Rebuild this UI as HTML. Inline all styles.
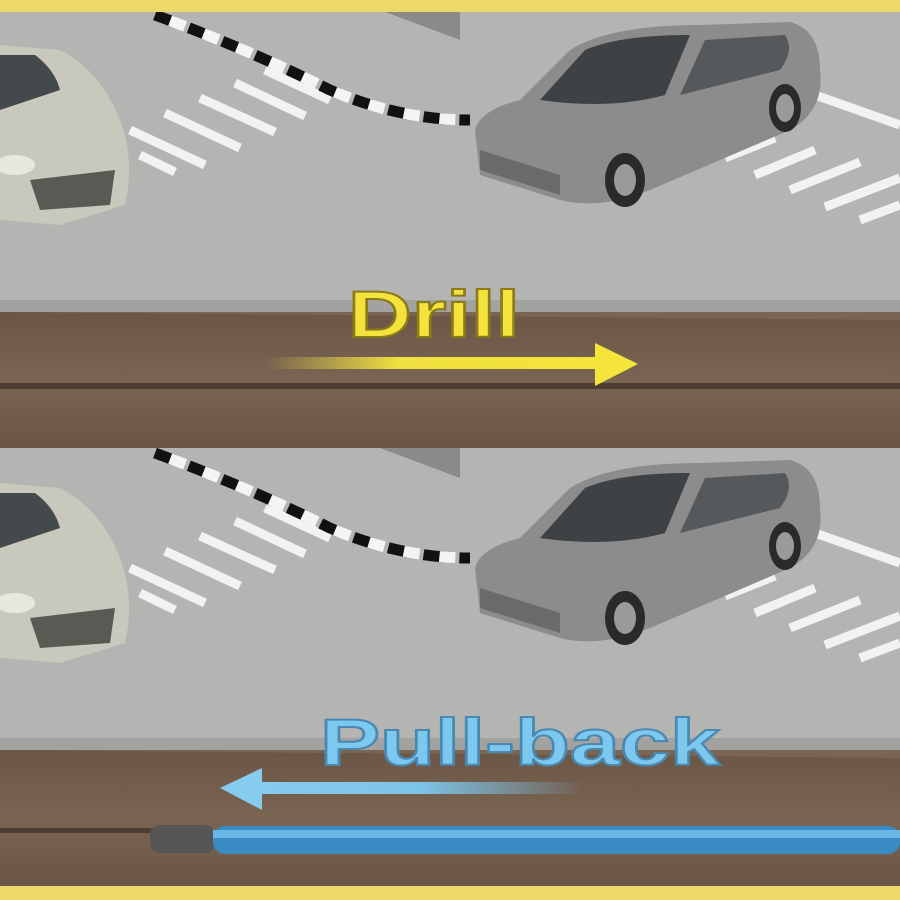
<!DOCTYPE html>
<html><head><style>body{margin:0;background:#fff}svg{display:block}</style></head><body>
<svg width="900" height="900" viewBox="0 0 900 900" xmlns="http://www.w3.org/2000/svg">
<defs>
<linearGradient id="dirt" x1="0" y1="0" x2="0" y2="1"><stop offset="0" stop-color="#6b5646"/><stop offset="0.5" stop-color="#7a6452"/><stop offset="1" stop-color="#6a5545"/></linearGradient>
<linearGradient id="ya" x1="0" x2="1"><stop offset="0" stop-color="#e8d84a" stop-opacity="0"/><stop offset="0.4" stop-color="#f0e040"/><stop offset="1" stop-color="#f5e43a"/></linearGradient>
<linearGradient id="ba" x1="1" x2="0"><stop offset="0" stop-color="#7cc4e8" stop-opacity="0"/><stop offset="0.5" stop-color="#7cc4e8"/><stop offset="1" stop-color="#86ccee"/></linearGradient>
<g id="panel">
<rect x="0" y="0" width="900" height="300" fill="#b4b4b2"/>
<rect x="0" y="290" width="900" height="12" fill="#a2a2a0"/>
<path d="M380 0 L460 0 L460 30 Z" fill="#8a8a88"/>
<g stroke="#f2f2f0" stroke-width="9">
<line x1="130" y1="120" x2="205" y2="155"/><line x1="165" y1="103" x2="240" y2="138"/><line x1="200" y1="88" x2="275" y2="122"/><line x1="235" y1="73" x2="305" y2="106"/><line x1="265" y1="60" x2="330" y2="90"/><line x1="140" y1="145" x2="175" y2="162"/>
<line x1="725" y1="148" x2="775" y2="128"/><line x1="755" y1="165" x2="815" y2="140"/><line x1="790" y1="180" x2="860" y2="152"/><line x1="825" y1="197" x2="900" y2="168"/><line x1="860" y1="210" x2="900" y2="195"/><line x1="815" y1="85" x2="900" y2="115"/>
</g>
<path d="M155 5 Q250 40 330 80 Q400 110 470 110" fill="none" stroke="#111" stroke-width="11" stroke-dasharray="20 16"/>
<path d="M155 5 Q250 40 330 80 Q400 110 470 110" fill="none" stroke="#f4f4f4" stroke-width="11" stroke-dasharray="16 20" stroke-dashoffset="20"/>
<path d="M0 35 L60 40 Q100 60 120 110 Q135 150 125 195 L60 215 L0 210 Z" fill="#c9c8bc"/>
<path d="M0 45 L35 45 Q55 60 60 80 L0 100 Z" fill="#444a4c"/>
<path d="M30 170 L115 160 L110 195 L40 200 Z" fill="#5a5a55"/>
<ellipse cx="15" cy="155" rx="20" ry="10" fill="#e8e8e0"/>
<path d="M475 120 Q480 100 520 90 L570 40 Q610 15 700 15 L790 12 Q820 20 820 60 Q825 100 790 120 L650 180 Q600 200 560 190 L480 165 Z" fill="#8c8c8c"/>
<path d="M540 90 L585 40 Q620 25 690 25 L665 85 Q610 100 540 90 Z" fill="#3e4244"/>
<path d="M680 85 L705 30 L785 25 Q795 40 780 60 Z" fill="#56595b"/>
<path d="M480 140 L560 165 L560 185 L480 160 Z" fill="#6a6a6a"/>
<ellipse cx="625" cy="170" rx="20" ry="27" fill="#2a2a2a"/><ellipse cx="625" cy="170" rx="11" ry="16" fill="#9a9a9a"/>
<ellipse cx="785" cy="98" rx="16" ry="24" fill="#2a2a2a"/><ellipse cx="785" cy="98" rx="9" ry="14" fill="#9a9a9a"/>
<path d="M0 302 L900 310 L900 440 L0 440 Z" fill="url(#dirt)"/>
</g>
</defs>
<rect width="900" height="900" fill="#7a6452"/>
<use href="#panel" y="10"/>
<rect x="0" y="383" width="900" height="6" fill="#4e3e32"/>
<use href="#panel" y="448"/>
<rect x="0" y="0" width="900" height="12" fill="#ecd96a"/>
<rect x="0" y="886" width="900" height="14" fill="#ecd96a"/>
<text x="348" y="337" textLength="172" lengthAdjust="spacingAndGlyphs" font-family="Liberation Sans, sans-serif" font-weight="bold" font-size="66" fill="#f3e33c" stroke="#8a7a18" stroke-width="2">Drill</text>
<rect x="265" y="357" width="335" height="12" fill="url(#ya)"/>
<polygon points="595,343 638,364 595,386" fill="#f5e43a"/>
<text x="320" y="765" textLength="400" lengthAdjust="spacingAndGlyphs" font-family="Liberation Sans, sans-serif" font-weight="bold" font-size="66" fill="#7cc8ee" stroke="#4a88b0" stroke-width="2">Pull-back</text>
<rect x="255" y="782" width="330" height="12" fill="url(#ba)"/>
<polygon points="262,768 220,788 262,810" fill="#86ccee"/>
<rect x="0" y="828" width="160" height="5" fill="#4e3e32"/>
<rect x="150" y="825" width="65" height="28" rx="10" fill="#555"/>
<rect x="213" y="826" width="687" height="28" rx="12" fill="#3a8ac4"/>
<rect x="213" y="830" width="687" height="8" fill="#6ab6e6"/>
</svg>
</body></html>
